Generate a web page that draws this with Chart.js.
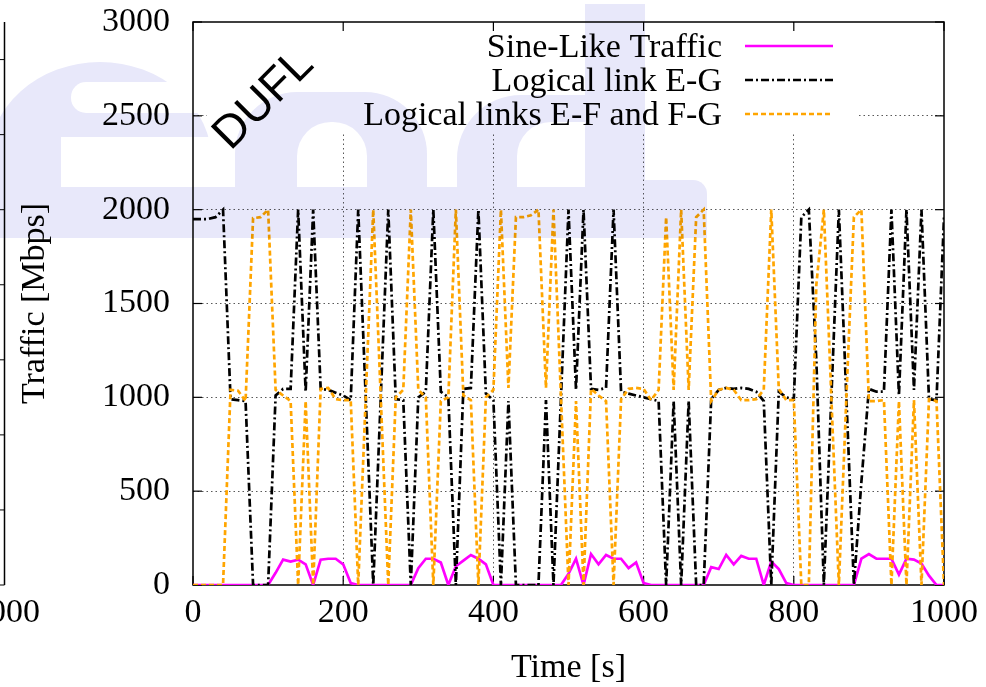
<!DOCTYPE html>
<html><head><meta charset="utf-8">
<script src="https://cdn.jsdelivr.net/npm/chart.js@4.4.1/dist/chart.umd.min.js"></script>
<style>html,body{margin:0;padding:0;background:#fff;overflow:hidden}#wrap{width:986px;height:687px;position:relative}canvas{display:block}</style>
</head><body><div id="wrap"><canvas id="c" width="986" height="687"></canvas></div>
<script>
// ---- data ----
const times = [0,10,20,30,40,50,60,70,80,90,100,110,120,130,140,150,160,170,180,190,200,210,220,230,240,250,260,270,280,290,300,310,320,330,340,350,360,370,380,390,400,410,420,430,440,450,460,470,480,490,500,510,520,530,540,550,560,570,580,590,600,610,620,630,640,650,660,670,680,690,700,710,720,730,740,750,760,770,780,790,800,810,820,830,840,850,860,870,880,890,900,910,920,930,940,950,960,970,980,990,1000];
const sineTraffic = [0,0,0,0,0,0,0,0,0,0,0,65,135,125,135,110,0,135,140,140,110,10,0,0,0,0,0,0,0,0,90,140,140,120,0,100,130,160,140,110,0,0,0,0,0,0,0,0,0,0,60,140,0,165,110,160,140,140,90,120,10,0,0,0,0,0,0,0,0,95,85,160,110,155,140,140,0,125,85,10,0,0,0,0,0,0,0,0,0,140,165,140,140,140,55,140,135,115,50,0,0];
const linkEG = [1950,1950,1950,1960,2000,990,985,980,0,0,0,1010,1045,1045,2000,1030,2000,1045,1040,1025,1010,985,2000,1000,0,1000,2000,990,985,0,1000,1030,2000,1030,1000,0,1045,1050,2000,1020,985,0,980,0,0,0,0,985,0,1000,2000,1040,2000,1045,1040,1050,2000,1030,1020,1010,1000,990,980,0,980,0,980,0,0,990,1040,1050,1045,1050,1045,1030,980,0,1030,1000,990,1960,2000,1200,0,1000,2000,1000,0,550,1045,1030,1030,2000,1010,2000,1040,2000,990,985,1960];
const linkEFFG = [0,0,0,0,0,1040,1035,980,1955,1960,2000,1040,1010,980,0,980,0,1045,1050,990,985,985,0,1000,2000,1000,0,1000,1040,2000,1040,1000,0,980,1000,2000,1010,985,0,1000,1040,2000,1050,1960,1960,1970,2000,1050,2000,1000,0,980,0,1045,1010,980,0,990,1045,1050,1045,985,1040,1960,1040,2000,1040,1960,2000,980,1040,1050,1040,985,985,990,1040,2000,1045,985,985,0,0,1600,2000,1000,0,1000,1960,2000,980,980,985,0,980,0,985,0,990,980,0];
const xTicks = [0,200,400,600,800,1000];
const yTicks = [0,500,1000,1500,2000,2500,3000];
const seriesLabels = ['Sine-Like Traffic','Logical link E-G','Logical links E-F and F-G'];
const seriesColors = ['#ff00ff','#000000','#ffa500'];
const seriesDash = [[],[8,3,2,3],[5,3]];

const SERIF = '"Liberation Serif","Times New Roman",serif';
const SANS = '"Liberation Sans",Arial,sans-serif';

function pts(vals){ return times.map((t,i)=>({x:t,y:vals[i]})); }

function line(ctx,x1,y1,x2,y2){ctx.beginPath();ctx.moveTo(x1,y1);ctx.lineTo(x2,y2);ctx.stroke();}

const framePlugin = {
  id:'frame',
  beforeDatasetsDraw(chart){
    const {ctx, chartArea:a, scales:{x,y}} = chart;
    ctx.save();
    // opaque key box hiding grid
    ctx.fillStyle='#fff';
    ctx.fillRect(a.left+14, a.top+1, 651, 110);
    ctx.strokeStyle='#000'; ctx.lineWidth=1.5; ctx.setLineDash([]);
    ctx.strokeRect(a.left, a.top, a.right-a.left, a.bottom-a.top);
    ctx.lineWidth=1.2;
    xTicks.forEach(v=>{const px=x.getPixelForValue(v); line(ctx,px,a.bottom,px,a.bottom-9); line(ctx,px,a.top,px,a.top+9);});
    yTicks.forEach(v=>{const py=y.getPixelForValue(v); line(ctx,a.left,py,a.left+9,py); line(ctx,a.right,py,a.right-9,py);});
    ctx.restore();
  },
  afterDraw(chart){
    const {ctx, chartArea:a} = chart;
    ctx.save();
    // key
    ctx.font = '34px '+SERIF; ctx.fillStyle='#000'; ctx.textAlign='right'; ctx.textBaseline='alphabetic';
    const base=[57,91,125];
    seriesLabels.forEach((lab,i)=>{
      ctx.fillText(lab, 722, base[i]);
      ctx.strokeStyle=seriesColors[i]; ctx.lineWidth=2.5; ctx.setLineDash(seriesDash[i]);
      line(ctx,745,base[i]-11,833,base[i]-11);
    });
    ctx.setLineDash([]);
    // DUFL label
    ctx.save();
    ctx.translate(264,100); ctx.rotate(-Math.PI/4);
    ctx.font='46px '+SANS; ctx.textAlign='center'; ctx.textBaseline='middle'; ctx.fillStyle='#000';
    ctx.fillText('DUFL',0,0);
    ctx.restore();
    // remnant of neighbouring plot at left edge
    ctx.strokeStyle='#000'; ctx.lineWidth=1.5;
    line(ctx,4.5,a.top,4.5,a.bottom);
    ctx.lineWidth=1;
    for(let k=0;k<8;k++){const py=a.bottom-75.06*k; line(ctx,0,py,4.5,py);}
    ctx.font='34px '+SERIF; ctx.textAlign='center'; ctx.textBaseline='middle';
    ctx.fillText('1000',6,613);
    ctx.restore();
    // watermark (multiplied over everything)
    const off=document.createElement('canvas'); off.width=986; off.height=687;
    const o=off.getContext('2d');
    o.fillStyle='#e8e8fa';
    o.beginPath(); o.ellipse(100,162,112,100,0,0,Math.PI*2); o.fill();
    o.beginPath(); o.roundRect(235,92,192,146,[62,62,0,0]); o.fill();
    o.beginPath(); o.roundRect(457,95,186,143,[64,0,0,0]); o.fill();
    o.fillRect(585,4,60,234);
    o.beginPath(); o.roundRect(0,187,707,51,[0,14,0,0]); o.fill();
    o.beginPath(); o.roundRect(643,180,64,58,[0,14,0,0]); o.fill();
    o.globalCompositeOperation='destination-out';
    o.beginPath(); o.roundRect(71,82,127,31,[15,0,0,15]); o.fill();
    o.fillRect(61,137,174,50);
    o.beginPath(); o.roundRect(297,122,70,65,[34,34,0,0]); o.fill();
    o.beginPath(); o.roundRect(517,122,68,65,[34,0,0,0]); o.fill();
    o.clearRect(0,238,986,449);
    ctx.save();
    ctx.globalCompositeOperation='multiply';
    ctx.drawImage(off,0,0);
    ctx.restore();
  }
};

const gridColor = (edges)=>(c)=> (c.tick && edges.includes(c.tick.value)) ? 'rgba(0,0,0,0)' : 'rgba(0,0,0,0.65)';

new Chart(document.getElementById('c').getContext('2d'), {
  type:'line',
  data:{datasets:[
    {label:seriesLabels[0], data:pts(sineTraffic), borderColor:seriesColors[0], borderWidth:2.7, borderDash:seriesDash[0], pointRadius:0, tension:0, fill:false, order:2},
    {label:seriesLabels[1], data:pts(linkEG), borderColor:seriesColors[1], borderWidth:2.7, borderDash:seriesDash[1], pointRadius:0, tension:0, fill:false, order:1},
    {label:seriesLabels[2], data:pts(linkEFFG), borderColor:seriesColors[2], borderWidth:2.7, borderDash:seriesDash[2], pointRadius:0, tension:0, fill:false, order:0}
  ]},
  options:{
    responsive:false, animation:false, devicePixelRatio:1, events:[],
    layout:{padding:{left:0,right:42,top:22,bottom:0}},
    plugins:{legend:{display:false}, tooltip:{enabled:false}},
    scales:{
      x:{type:'linear', min:0, max:1000,
         afterBuildTicks:s=>{s.ticks=xTicks.map(v=>({value:v}));},
         afterFit:s=>{s.height=102; s.paddingLeft=0; s.paddingRight=0;},
         ticks:{font:{family:SERIF,size:34}, color:'#000', padding:8, maxRotation:0, autoSkip:false, callback:v=>String(v)},
         grid:{drawTicks:false, color:gridColor([0,1000]), lineWidth:1},
         border:{display:false, dash:[1.5,3]},
         title:{display:true, text:'Time [s]', color:'#000', font:{family:SERIF,size:34,lineHeight:1.1}, padding:{top:0,bottom:0}}},
      y:{type:'linear', min:0, max:3000,
         afterBuildTicks:s=>{s.ticks=yTicks.map(v=>({value:v}));},
         afterFit:s=>{s.width=193; s.paddingTop=0; s.paddingBottom=0;},
         ticks:{font:{family:SERIF,size:34}, color:'#000', padding:23, autoSkip:false, callback:v=>String(v)},
         grid:{drawTicks:false, color:gridColor([0,3000]), lineWidth:1},
         border:{display:false, dash:[1.5,3]},
         title:{display:true, text:'Traffic [Mbps]', color:'#000', font:{family:SERIF,size:34,lineHeight:1.1}, padding:{top:16,bottom:0}}}
    }
  },
  plugins:[framePlugin]
});
</script></body></html>
